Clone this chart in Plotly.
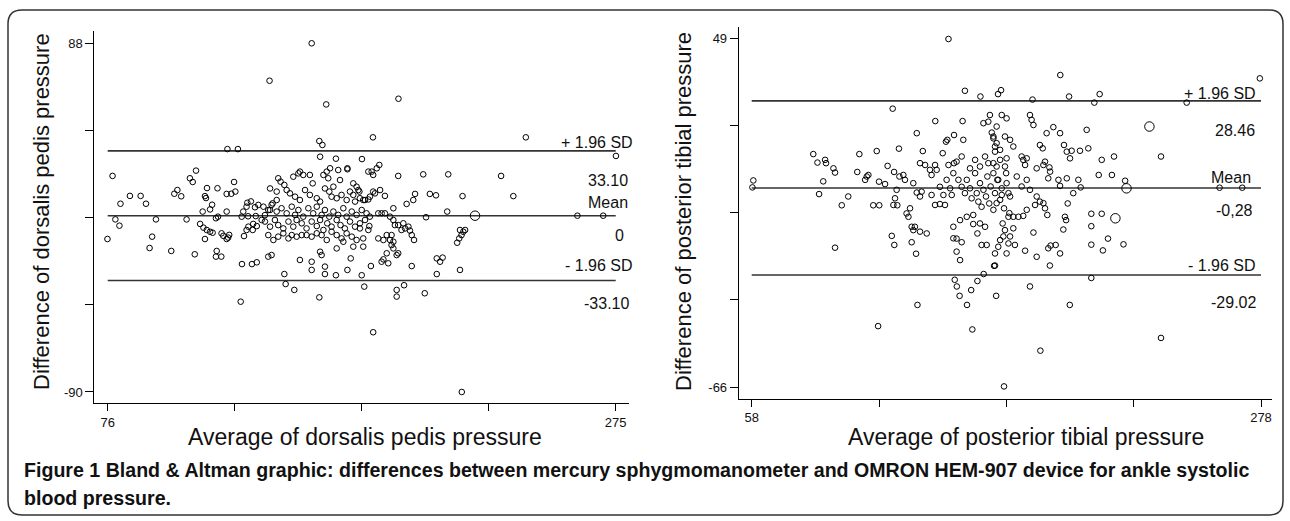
import plotly.graph_objects as go

W, H = 1290, 521

# ---------------- data: dorsalis pedis (left) ----------------
dp_avg = [155.9, 139.4, 189.9, 161.6, 179.9, 239.8, 158.9, 160.1, 122.9, 127.0, 275.1, 159.2, 165.4, 175.6,
          169.9, 182.4, 181.4, 179.4, 180.0, 189.8, 199.6, 209.4, 230.1, 77.9, 110.6, 108.2, 109.3, 125.5,
          114.9, 119.0, 84.7, 88.9, 81.0, 91.0, 102.1, 103.3, 104.8, 122.6, 124.4, 126.0, 114.5, 114.1,
          116.9, 116.1, 113.2, 122.6, 118.4, 119.2, 94.9, 106.9, 79.0, 80.6, 75.9, 93.4, 92.4, 100.9, 110.1,
          118.7, 118.4, 120.5, 112.2, 113.5, 114.8, 114.1, 116.1, 117.1, 120.6, 121.3, 122.6, 123.6, 123.2,
          128.6, 132.5, 134.4, 128.1, 129.4, 130.4, 131.1, 132.8, 133.0, 134.4, 129.1, 130.4, 130.7, 132.1,
          133.7, 135.0, 128.5, 131.0, 134.0, 136.3, 137.6, 139.6, 140.6, 142.2,
          142.8, 143.7, 145.2, 148.7, 150.7, 151.3, 152.6, 155.2, 156.3, 160.5, 161.8, 163.1, 166.3, 169.9,
          162.4, 164.4, 167.0, 172.2, 173.5, 174.6, 178.1,
          139.6, 142.2, 146.1, 147.4, 149.4, 151.3, 153.3, 155.2, 157.9, 159.2, 161.1, 162.8, 163.7, 165.7,
          167.6, 169.6, 170.9, 172.9, 174.8, 176.8, 178.1,
          137.0, 138.9, 140.2, 142.2, 144.1, 146.1, 148.1, 149.4, 150.7, 152.6, 154.6, 156.5, 157.9, 159.8,
          161.1, 162.8, 164.4, 166.3, 168.3, 169.6, 171.6, 173.5, 175.5, 177.4,
          137.6, 139.6, 141.5, 142.8, 144.8, 146.8, 148.7, 150.0, 152.0, 153.9, 155.9, 157.9, 159.2, 160.5,
          162.0, 163.7, 165.7, 167.2, 168.9, 170.9, 172.9, 174.8, 176.8, 178.5,
          138.9, 140.9, 142.8, 144.8, 146.8, 148.1, 150.0, 152.0, 153.9, 155.9, 157.9, 159.8, 161.8, 163.7,
          165.7, 167.6, 169.6, 171.6, 173.5, 176.1, 168.3, 172.2,
          138.9, 140.2, 151.3, 155.9, 155.9, 159.2, 159.8, 161.1, 161.1, 165.4, 165.7, 169.9, 171.2, 175.5,
          176.5, 176.1, 145.2, 145.7, 149.1, 158.9,
          234.9, 215.0, 202.2, 204.6, 196.4, 195.7, 193.1, 209.0, 200.7, 260.0, 270.1,
          214.0, 215.3, 216.0, 214.6, 213.7, 212.9, 204.9, 206.2, 207.2, 204.9, 214.0, 200.2, 195.1,
          189.2, 189.2, 192.1, 180.0, 179.1, 183.3, 184.0, 185.9, 185.3, 187.2, 187.9, 189.2, 189.8,
          182.0, 184.0, 185.3, 187.2, 186.6, 187.9, 195.1, 194.4, 196.0, 193.8, 192.5, 191.8, 189.8,
          178.1, 174.8, 172.2, 174.2, 176.1, 178.7, 180.7, 182.7, 184.6, 180.0,
          178.7, 182.0, 183.3, 184.6, 186.6, 187.9, 188.5, 187.9, 191.1, 214.7]
dp_diff = [88.0, 68.9, 59.7, 56.8, 40.0, 40.0, 38.1, 36.1, 34.0, 34.0, 30.5, 30.1, 29.1, 28.9,
           24.2, 25.9, 24.2, 22.5, 20.8, 20.3, 21.1, 21.1, 20.3, 20.3, 23.0, 19.1, 17.2, 17.2,
           14.1, 14.0, 10.1, 10.1, 6.1, 6.1, 11.2, 13.1, 9.9, 11.1, 11.2, 12.3, 9.0, 10.0,
           5.6, 3.2, 2.1, 2.1, -1.3, -0.5, -1.9, -1.9, -1.9, -5.1, -11.9, -10.7, -16.5, -18.0, -19.7,
           -18.0, -20.9, -20.9, -4.2, -6.1, -7.3, -11.9, -8.2, -8.7, -9.0, -10.3, -11.9, -9.8, -11.2,
           -24.7, -24.7, -23.8, -43.9, -10.4, -7.3, -5.6, -7.3, -4.2, -5.3, 2.1, 4.6, 6.6, 7.3,
           4.3, 5.5, -0.5, -0.3, -0.2, -2.2, 0.3, 2.9, 6.3, 8.0,
           19.1, 17.4, 15.7, 19.9, 21.6, 22.5, 20.8, 20.8, 16.5, 20.8, 22.5, 24.2, 23.3, 23.7,
           19.1, 14.8, 18.2, 16.5, 14.8, 12.3, 22.5,
           13.9, 12.3, 13.1, 11.4, 9.7, 8.0, 13.1, 10.6, 8.9, 7.2, 13.9, 12.3, 9.7, 8.9,
           10.6, 8.0, 12.3, 7.2, 8.9, 8.0, 8.3,
           4.6, 2.9, 5.5, 2.1, 3.8, 1.2, 4.6, 0.4, 2.9, -0.5, 3.8, 1.2, 4.6, 0.4,
           2.9, -0.5, 2.1, 0.4, 3.8, -0.5, 2.1, 0.4, 2.9, 1.2,
           -3.0, -5.6, -2.2, -4.8, -6.5, -3.0, -5.6, -2.2, -3.9, -6.5, -3.0, -5.3, -2.2, -7.3,
           -3.9, -5.6, -2.2, -4.8, -6.5, -3.0, -5.6, -3.9, -2.2, -5.3,
           -9.9, -12.4, -10.7, -9.0, -11.6, -9.9, -10.7, -9.9, -9.9, -10.7, -9.0, -9.9, -12.4, -8.2,
           -9.9, -11.6, -9.0, -10.7, -12.4, -11.6, -13.3, -15.8,
           -20.9, -20.1, -22.6, -23.5, -27.7, -18.4, -20.1, -26.0, -29.8, -30.4, -16.7, -27.7, -21.8, -30.4,
           -36.2, -15.8, -29.8, -34.9, -37.9, -41.7,
           10.0, 10.0, 11.1, 10.4, 11.1, 8.0, 6.0, 2.1, -0.8, 0.0, 0.0,
           -7.3, -8.2, -7.3, -9.9, -11.6, -13.8, -21.8, -23.5, -21.4, -29.8, -27.7, -39.6, -25.7,
           -37.9, -41.3, -35.5, -59.5, -25.7, -23.5, -22.3, -24.3, -19.2, -15.0, -16.7, -20.1, -19.2,
           -11.6, -12.4, -9.9, -9.9, -12.4, -13.3, -9.9, -7.6, -12.4, -5.6, -6.5, -3.9, -4.8,
           -7.3, -6.5, 10.6, 13.1, 8.0, 9.7, 11.4, 13.1, 10.1, 12.3,
           -0.5, 1.2, 1.2, 1.2, -0.5, 3.8, -4.8, -2.2, -7.3, -90.0]
dp_big_avg = [219.9]
dp_big_diff = [0.0]
dp_mean, dp_upper, dp_lower = 0.0, 33.10, -33.10
dp_xticks = [76, 125.75, 175.5, 225.25, 275]
dp_xticktext = ["76", "", "", "", "275"]
dp_yticks = [88, 43.5, -1, -45.5, -90]
dp_yticktext = ["88", "", "", "", "-90"]

# ---------------- data: posterior tibial (right) ----------------
pt_avg = [143.0, 191.3, 277.5, 150.1, 164.4, 165.7, 156.8, 179.3, 195.1, 206.0, 208.3, 245.9, 118.9, 234.8,
          58.7, 58.3, 260.1, 269.9, 112.6, 129.6, 145.7, 146.6, 147.8, 151.0, 152.8, 153.3, 155.5, 158.2,
          162.7, 163.6, 167.0, 178.2, 182.7, 195.4, 204.7, 234.8, 218.6, 211.9, 209.7, 204.7, 204.7, 204.7,
          209.2, 186.8, 181.1, 176.1, 207.9, 213.6, 209.2, 214.5, 219.3,
          84.6, 86.4, 89.7, 90.1, 93.3, 94.0, 88.9, 87.1, 99.7, 96.9, 94.0, 103.6, 104.5, 107.7, 108.4, 107.0,
          112.0, 113.0, 115.6, 110.5, 113.1, 116.7, 119.5, 121.8, 123.5, 124.2, 121.6, 120.6, 119.9, 119.2,
          120.9, 118.5, 119.6, 124.9, 125.7, 126.4, 127.1, 127.8, 128.5, 130.7, 133.6, 127.1, 129.0, 129.3,
          127.8, 129.3, 131.4, 130.7, 131.9, 130.7, 132.9, 135.0, 135.7, 137.2, 137.9, 135.7, 137.2, 139.3,
          141.5, 144.4, 137.3, 140.5, 141.9, 142.5, 145.4, 145.4, 146.5, 148.7, 149.4, 149.1,
          145.1, 146.5, 148.7, 146.5, 148.0, 157.3, 159.5, 163.1, 155.5, 153.7, 156.6, 158.8, 145.1, 148.0,
          150.9, 153.7, 160.9, 158.1, 160.2, 161.7, 163.8, 166.0, 168.1, 162.4, 163.1, 165.3, 162.4, 163.8,
          168.1, 167.4,
          147.3, 148.7, 150.1, 150.9, 152.3, 153.0, 154.5, 155.2, 155.9, 156.6, 157.3, 158.1, 159.2, 159.8,
          160.6, 161.2, 162.4, 163.1, 164.1, 165.3, 166.0, 167.0, 167.9, 168.9, 169.3,
          142.2, 143.7, 145.1, 140.8, 139.3, 143.0, 152.3, 154.5, 156.6, 158.8, 160.2,
          178.2, 178.9, 179.7, 185.4, 188.3, 191.2, 202.7, 182.5, 183.7, 192.9, 194.1, 196.2, 195.5, 199.8,
          203.4, 174.6, 175.3, 176.8, 176.1, 181.1, 184.7, 186.6, 186.9, 184.0, 186.1, 190.5, 191.2, 194.1,
          199.1, 200.1, 196.9, 194.5, 193.3, 193.8, 192.6, 179.7, 187.1, 186.1, 189.3, 191.2,
          168.9, 171.0, 173.2, 175.3, 176.8, 180.4, 181.1, 182.5, 184.0, 184.7, 185.7,
          166.4, 167.4, 169.6, 171.0, 166.7, 168.9, 165.3, 163.1, 164.5, 168.1, 171.7,
          162.4, 163.8, 163.1, 165.3, 167.4, 162.4, 164.5, 168.1, 169.6, 171.0, 172.5, 174.6, 176.8, 178.2,
          169.6, 163.8, 166.0]
pt_diff = [48.9, 37.0, 35.9, 31.8, 30.7, 32.0, 29.9, 28.9, 29.9, 27.9, 30.7, 27.9, 25.9, 10.1,
           2.2, -0.1, -0.2, -0.2, -45.9, -38.9, -30.6, -32.8, -35.9, -38.9, -34.0, -47.0, -31.0, -28.7,
           -26.0, -35.9, -65.8, -32.8, -54.0, -38.9, -30.0, -49.8, -18.9, -17.0, -20.9, -19.0, -12.9, -8.8,
           -8.8, -25.9, -23.0, -21.0, 4.0, 4.0, 9.0, 10.1, 2.1,
           10.9, 8.1, 9.0, 7.9, 6.2, 4.8, 1.9, -2.3, -3.1, -6.0, -20.0, 5.0, 10.9, 3.5, 4.0, 2.4,
           11.9, 1.8, 1.0, -6.0, -6.0, 7.0, 5.0, 3.5, 4.0, 2.4, 12.7, -0.9, -3.7, -5.9,
           -6.0, -16.1, -19.1, -8.7, -9.8, -7.0, -13.1, -14.2, -13.1, -14.7, -15.3, -18.2, -22.0, 17.8,
           1.3, -1.8, -1.5, -3.1, 11.9, 7.9, 7.3, 5.7, 4.0, 7.3, 5.7, -2.6, -5.9, -5.6,
           -5.9, -2.6, 21.8, 11.2, 15.0, 15.6, 17.2, 7.9, 8.4, 10.1, 15.6, 21.8,
           -16.9, -17.0, -18.2, -21.3, -24.1, -19.1, -19.1, -25.9, -15.3, -12.2, -12.0, -13.1, -13.1, -10.9,
           -9.8, -9.2, 23.8, 21.1, 21.6, 18.0, 20.0, 23.8, 22.7, 16.1, 13.4, 12.3, 7.9, 6.8,
           9.5, 16.7,
           2.4, 0.1, -2.0, 2.4, -0.4, -3.7, 4.6, -2.0, -4.8, 1.3, -6.5, -0.9, -3.1, 3.5,
           -5.4, 0.2, -7.5, -2.0, 2.4, -4.2, -0.4, -7.0, 4.6, -2.0, -8.6,
           2.4, -0.4, 4.6, -2.6, 0.1, 7.3, 6.2, 9.0, 6.8, 10.1, 7.9,
           23.8, 22.2, 20.5, 17.8, 19.8, 17.8, 18.9, 13.9, 12.8, 13.9, 11.7, 12.0, 9.5, 12.0,
           12.8, 10.1, 9.0, 9.5, 7.3, 6.2, 8.4, 6.5, 5.1, 7.3, 2.9, 2.4, 0.4, 2.9,
           2.4, -0.1, -2.0, -5.4, -9.8, -10.9, -14.0, -15.0, -19.3, -20.2, -19.1, -21.9,
           -9.8, -9.8, -9.8, -9.5, -7.5, -5.9, -3.1, -4.8, -5.3, -7.0, -9.2,
           -12.0, -14.2, -16.3, -13.6, -16.3, -18.6, -17.5, -21.9, -19.7, -21.9, -19.1,
           16.7, 14.5, 11.7, 9.0, 6.8, 4.6, 2.4, 1.3, 15.6, 13.4, 3.5, 0.2, 2.4, -0.9,
           -3.1, -5.3, -2.6]
pt_big_avg = [229.8, 219.9, 215.1]
pt_big_diff = [20.0, -0.4, -10.3]
pt_mean, pt_upper, pt_lower = -0.28, 28.46, -29.02
pt_xticks = [58, 113, 168, 223, 278]
pt_xticktext = ["58", "", "", "", "278"]
pt_yticks = [49, 20.25, -8.5, -37.25, -66]
pt_yticktext = ["49", "", "", "", "-66"]

dp_labels = ["+ 1.96 SD", "33.10", "Mean", "0", "- 1.96 SD", "-33.10"]
pt_labels = ["+ 1.96 SD", "28.46", "Mean", "-0,28", "- 1.96 SD", "-29.02"]

FONT = "Arial, Liberation Sans, sans-serif"


def px(x):
    return x / W


def py(y):
    return 1 - y / H


fig = go.Figure()

small = dict(symbol="circle-open", size=5.6, color="black", line=dict(width=1, color="black"))
big = dict(symbol="circle-open", size=9.5, color="black", line=dict(width=1, color="black"))

fig.add_trace(go.Scatter(x=dp_avg, y=dp_diff, mode="markers", marker=small, xaxis="x", yaxis="y",
                         showlegend=False, hoverinfo="skip"))
fig.add_trace(go.Scatter(x=dp_big_avg, y=dp_big_diff, mode="markers", marker=big, xaxis="x", yaxis="y",
                         showlegend=False, hoverinfo="skip"))
fig.add_trace(go.Scatter(x=pt_avg, y=pt_diff, mode="markers", marker=small, xaxis="x2", yaxis="y2",
                         showlegend=False, hoverinfo="skip"))
fig.add_trace(go.Scatter(x=pt_big_avg, y=pt_big_diff, mode="markers", marker=big, xaxis="x2", yaxis="y2",
                         showlegend=False, hoverinfo="skip"))

shapes = []
for val in (dp_upper, dp_mean, dp_lower):
    shapes.append(dict(type="line", xref="x", yref="y", x0=dp_xticks[0], x1=dp_xticks[-1], y0=val, y1=val,
                       line=dict(color="#333333", width=1.6), layer="below"))
for val in (pt_upper, pt_mean, pt_lower):
    shapes.append(dict(type="line", xref="x2", yref="y2", x0=pt_xticks[0], x1=pt_xticks[-1], y0=val, y1=val,
                       line=dict(color="#333333", width=1.6), layer="below"))

# rounded frame
x0, y0, x1, y1, r = 8, 10, 1283, 515, 14
path = (f"M {px(x0 + r)} {py(y0)} L {px(x1 - r)} {py(y0)} Q {px(x1)} {py(y0)} {px(x1)} {py(y0 + r)} "
        f"L {px(x1)} {py(y1 - r)} Q {px(x1)} {py(y1)} {px(x1 - r)} {py(y1)} "
        f"L {px(x0 + r)} {py(y1)} Q {px(x0)} {py(y1)} {px(x0)} {py(y1 - r)} "
        f"L {px(x0)} {py(y0 + r)} Q {px(x0)} {py(y0)} {px(x0 + r)} {py(y0)} Z")
shapes.append(dict(type="path", xref="paper", yref="paper", path=path,
                   line=dict(color="#333333", width=1.5)))

annotations = []
dp_pos = [(635, 142.7), (629.5, 180), (630, 202), (626, 235), (635, 265.7), (631, 303)]
pt_pos = [(1258, 93.3), (1256.7, 130), (1253, 177.3), (1255, 210), (1258, 265), (1258, 302.7)]
for txt, (ax, ay) in zip(dp_labels + pt_labels, dp_pos + pt_pos):
    annotations.append(dict(text=txt, xref="paper", yref="paper", x=px(ax), y=py(ay), xanchor="right",
                            yanchor="middle", showarrow=False, font=dict(family=FONT, size=16, color="#111")))

annotations += [
    dict(text="Average of dorsalis pedis pressure", xref="paper", yref="paper", x=px(365), y=py(437),
         xanchor="center", yanchor="middle", showarrow=False, font=dict(family=FONT, size=23, color="#111")),
    dict(text="Average of posterior tibial pressure", xref="paper", yref="paper", x=px(1026), y=py(437),
         xanchor="center", yanchor="middle", showarrow=False, font=dict(family=FONT, size=23, color="#111")),
    dict(text="Difference of dorsalis pedis pressure", xref="paper", yref="paper", x=px(42), y=py(212),
         xanchor="center", yanchor="middle", textangle=-90, showarrow=False,
         font=dict(family=FONT, size=22, color="#111")),
    dict(text="Difference of posterior tibial pressure", xref="paper", yref="paper", x=px(684), y=py(212),
         xanchor="center", yanchor="middle", textangle=-90, showarrow=False,
         font=dict(family=FONT, size=22, color="#111")),
    dict(text="<b>Figure 1 Bland &amp; Altman graphic: differences between mercury sphygmomanometer and OMRON "
              "HEM-907 device for ankle systolic</b>",
         xref="paper", yref="paper", x=px(22), y=py(470), xanchor="left", yanchor="middle", showarrow=False,
         font=dict(family=FONT, size=19.6, color="#111")),
    dict(text="<b>blood pressure.</b>", xref="paper", yref="paper", x=px(22), y=py(498), xanchor="left",
         yanchor="middle", showarrow=False, font=dict(family=FONT, size=19.6, color="#111")),
]

axis_common = dict(showgrid=False, zeroline=False, showline=True, linecolor="black", linewidth=1,
                   ticks="outside", tickcolor="black", tickwidth=1, tickmode="array",
                   tickfont=dict(family=FONT, size=13, color="#111"), fixedrange=True)

fig.update_layout(
    width=W, height=H, margin=dict(l=0, r=0, t=0, b=0),
    paper_bgcolor="white", plot_bgcolor="white",
    xaxis=dict(domain=[px(94.3), px(629)], range=[70.75, 280.21], anchor="y",
               tickvals=dp_xticks, ticktext=dp_xticktext, ticklen=7, **axis_common),
    yaxis=dict(domain=[py(403), py(31)], range=[-95.62, 94.28], anchor="x",
               tickvals=dp_yticks, ticktext=dp_yticktext, ticklen=8, **axis_common),
    xaxis2=dict(domain=[px(738.7), px(1272)], range=[52.38, 282.75], anchor="y2",
                tickvals=pt_xticks, ticktext=pt_xticktext, ticklen=7, **axis_common),
    yaxis2=dict(domain=[py(398.7), py(27)], range=[-69.86, 52.86], anchor="x2",
                tickvals=pt_yticks, ticktext=pt_yticktext, ticklen=8, **axis_common),
    shapes=shapes, annotations=annotations,
)

assert len(dp_avg) == len(dp_diff), (len(dp_avg), len(dp_diff))
assert len(pt_avg) == len(pt_diff), (len(pt_avg), len(pt_diff))

fig.write_html("out.html")
